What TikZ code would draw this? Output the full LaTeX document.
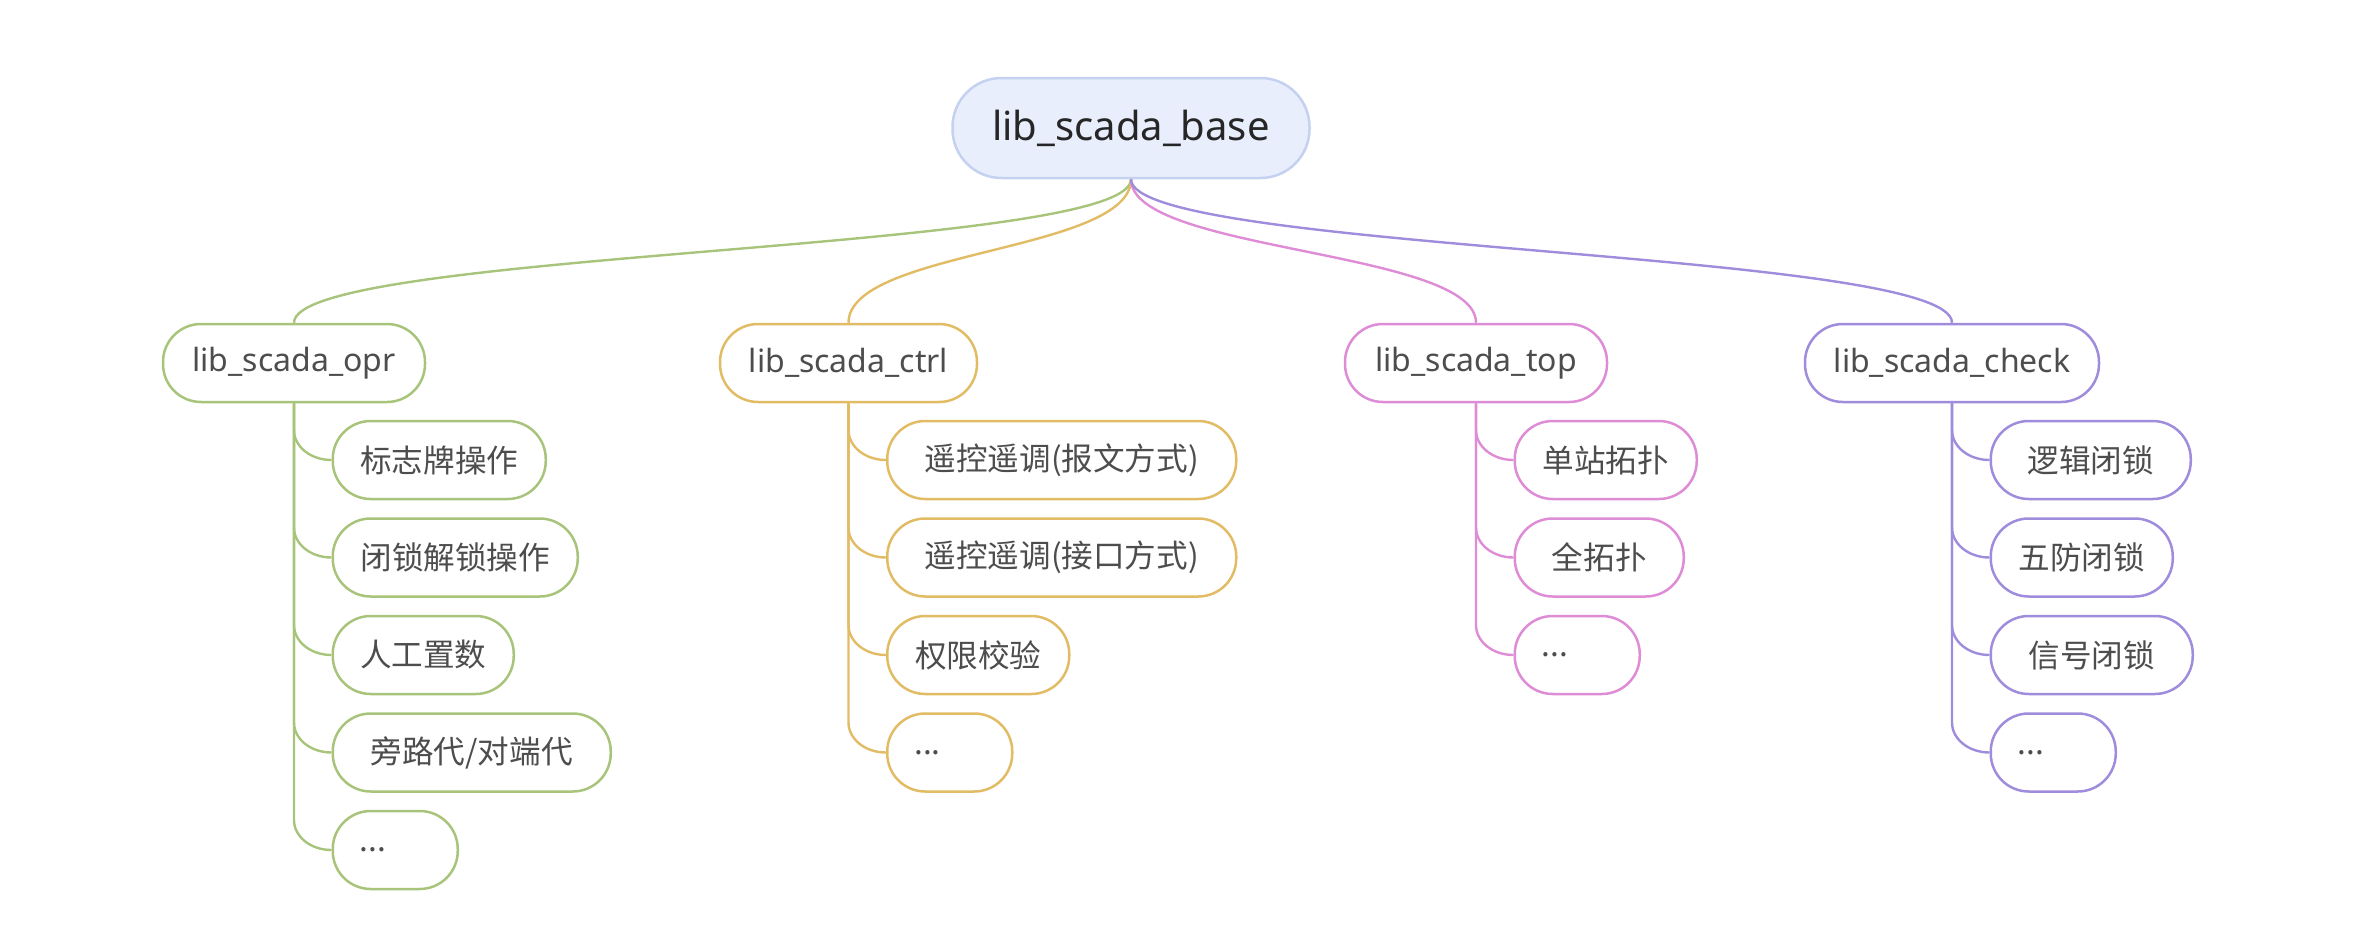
\documentclass[tikz,border=0pt]{standalone}
\usepackage{fontspec}
\setmainfont{Noto Sans}
\newfontfamily\cjk{Noto Sans CJK SC}
\usepackage{tikz}

\definecolor{rootfill}{HTML}{E8EEFC}
\definecolor{rootline}{HTML}{C5D1F0}
\definecolor{copr}{HTML}{A8C47A}
\definecolor{cctrl}{HTML}{E2BC64}
\definecolor{ctop}{HTML}{DE8CD6}
\definecolor{ccheck}{HTML}{A08CDC}
\definecolor{txtgray}{HTML}{4D4D4D}

\tikzset{
  pill/.style={draw, line width=1.25pt, fill=white, rounded corners=19pt,
    minimum height=39pt, inner xsep=13.5pt, inner ysep=0pt, text=txtgray,
    font=\fontsize{16}{19}\selectfont},
  rootbox/.style={pill, fill=rootfill, draw=rootline, rounded corners=24.5pt,
    minimum height=50pt, text=black!85, font=\fontsize{20}{24}\selectfont},
  leaf/.style={pill, anchor=west, font=\cjk\fontsize{15.8}{19}\selectfont},
  etc/.style={leaf, text width=35.5pt, align=left},
  link/.style={line width=1.2pt},
}

\begin{document}
\begin{tikzpicture}[x=0.5pt, y=-0.5pt]
  \useasboundingbox (0,0) rectangle (2362,942);

  % ── root ──
  \node[rootbox, minimum width=178.5pt] (base) at (1131,128) {lib\_scada\_base};

  % ── modules ──
  \node[pill, draw=copr,   minimum width=131pt]   (opr)   at (294,363)   {lib\_scada\_opr};
  \node[pill, draw=cctrl,  minimum width=128.5pt] (ctrl)  at (848.5,363) {lib\_scada\_ctrl};
  \node[pill, draw=ctop,   minimum width=131pt]   (top)   at (1476,363)  {lib\_scada\_top};
  \node[pill, draw=ccheck, minimum width=147pt]   (check) at (1952,363)  {lib\_scada\_check};

  % opr
  \node[leaf, draw=copr, minimum width=106.5pt] (opr1) at (331.5,460)   {标志牌操作};
  \node[leaf, draw=copr, minimum width=122.5pt] (opr2) at (331.5,557.5) {闭锁解锁操作};
  \node[leaf, draw=copr, minimum width=90.5pt]  (opr3) at (331.5,655)   {人工置数};
  \node[leaf, draw=copr, minimum width=139pt]   (opr4) at (331.5,752.5) {旁路代/对端代};
  \node[etc,  draw=copr]                        (opr5) at (331.5,850)   {...};

  % ctrl
  \node[leaf, draw=cctrl, minimum width=174.5pt] (ctrl1) at (886,460)   {遥控遥调(报文方式)};
  \node[leaf, draw=cctrl, minimum width=174.5pt] (ctrl2) at (886,557.5) {遥控遥调(接口方式)};
  \node[leaf, draw=cctrl, minimum width=91pt]    (ctrl3) at (886,655)   {权限校验};
  \node[etc,  draw=cctrl]                        (ctrl4) at (886,752.5) {...};

  % top
  \node[leaf, draw=ctop, minimum width=91pt]   (top1) at (1513.5,460)   {单站拓扑};
  \node[leaf, draw=ctop, minimum width=84.5pt] (top2) at (1513.5,557.5) {全拓扑};
  \node[etc,  draw=ctop]                       (top3) at (1513.5,655)   {...};

  % check
  \node[leaf, draw=ccheck, minimum width=100pt] (check1) at (1989.5,460)   {逻辑闭锁};
  \node[leaf, draw=ccheck, minimum width=91pt]  (check2) at (1989.5,557.5) {五防闭锁};
  \node[leaf, draw=ccheck, minimum width=101pt] (check3) at (1989.5,655)   {信号闭锁};
  \node[etc,  draw=ccheck]                      (check4) at (1989.5,752.5) {...};

  % ── links root -> modules ──
  \foreach \k in {opr,ctrl,top,check}
    \draw[link, c\k] (base.south) .. controls +(0pt,-36.5pt) and +(0pt,36.5pt) .. (\k.north);

  % ── links modules -> items ──
  \foreach \c in {opr1,opr2,opr3,opr4,opr5}
    \draw[link, copr] (\c.west) .. controls +(-10.5pt,0pt) and +(0pt,-8.25pt) .. ++(-18.75pt,15pt) -- (opr.south);
  \foreach \c in {ctrl1,ctrl2,ctrl3,ctrl4}
    \draw[link, cctrl] (\c.west) .. controls +(-10.5pt,0pt) and +(0pt,-8.25pt) .. ++(-18.75pt,15pt) -- (ctrl.south);
  \foreach \c in {top1,top2,top3}
    \draw[link, ctop] (\c.west) .. controls +(-10.5pt,0pt) and +(0pt,-8.25pt) .. ++(-18.75pt,15pt) -- (top.south);
  \foreach \c in {check1,check2,check3,check4}
    \draw[link, ccheck] (\c.west) .. controls +(-10.5pt,0pt) and +(0pt,-8.25pt) .. ++(-18.75pt,15pt) -- (check.south);
\end{tikzpicture}
\end{document}
